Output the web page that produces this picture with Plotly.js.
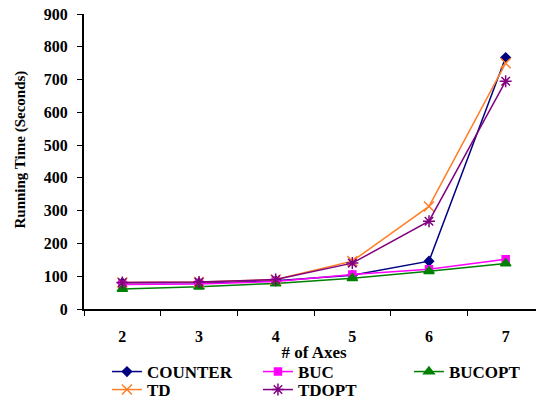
<!DOCTYPE html>
<html>
<head>
<meta charset="utf-8">
<script src="https://cdn.plot.ly/plotly-3.0.1.min.js"></script>
<style>
html,body{margin:0;padding:0;overflow:hidden;background:#fff;}
#chart{width:600px;height:400px;}
</style>
</head>
<body>
<div id="chart"></div>
<script>
const axes = ['2', '3', '4', '5', '6', '7'];
const counter = [80, 80, 86, 103, 146, 767];
const buc = [75, 76, 84, 105, 121, 152];
const bucopt = [61, 68, 78, 94, 115, 139];
const td = [81, 82, 90, 146, 313, 750];
const tdopt = [81, 82, 90, 140, 268, 695];
const yTicks = [0, 100, 200, 300, 400, 500, 600, 700, 800, 900];

const FONT = 'Liberation Serif, Times New Roman, serif';

function tr(name, y, color, symbol, size, legend) {
  return {
    type: 'scatter', mode: 'lines+markers', name: name,
    x: axes, y: y, legend: legend,
    line: {color: color, width: 1.5},
    marker: {symbol: symbol, size: size, color: color, line: {color: color, width: 1.5}}
  };
}

const data = [
  tr('COUNTER', counter, '#000080', 'diamond', 7, 'legend'),
  tr('BUC', buc, '#FF00FF', 'square', 7, 'legend'),
  tr('BUCOPT', bucopt, '#008000', 'triangle-up', 9, 'legend'),
  tr('TD', td, '#FF7F27', 'x-thin', 10, 'legend2'),
  tr('TDOPT', tdopt, '#800080', 'asterisk', 10, 'legend2')
];

const legendBase = {
  orientation: 'h', x: -0.0001, xanchor: 'left', yanchor: 'top',
  entrywidth: 83, entrywidthmode: 'pixels', itemwidth: 30, indentation: 23,
  tracegroupgap: 0, bgcolor: 'rgba(0,0,0,0)',
  font: {family: FONT, size: 17, weight: 'bold'}
};

const layout = {
  width: 600, height: 400,
  margin: {l: 84, r: 56, t: 14, b: 91, pad: 0, autoexpand: false},
  paper_bgcolor: '#fff', plot_bgcolor: '#fff',
  font: {family: FONT, size: 16, color: '#000', weight: 'bold'},
  showlegend: true,
  xaxis: {
    type: 'category', range: [-0.5, 5.5],
    showline: true, linecolor: '#000', linewidth: 2,
    showgrid: false, zeroline: false,
    ticks: 'outside', tickson: 'boundaries', ticklen: 5, tickwidth: 1, tickcolor: '#000',
    ticklabelstandoff: 12,
    tickfont: {family: FONT, size: 16, weight: 'bold'},
    title: {text: '# of Axes', font: {family: FONT, size: 17, weight: 'bold'}, standoff: 2}
  },
  yaxis: {
    range: [0, 900], tickvals: yTicks, ticktext: yTicks.map(String),
    showline: true, linecolor: '#000', linewidth: 2,
    showgrid: false, zeroline: false,
    ticks: 'outside', ticklen: 5, tickwidth: 1, tickcolor: '#000',
    ticklabelstandoff: 6,
    tickfont: {family: FONT, size: 16, weight: 'bold'}
  },
  annotations: [{
    text: 'Running Time (Seconds)', textangle: -90,
    xref: 'paper', yref: 'paper', x: -64/460, y: (309 - 149.5) / 295,
    xanchor: 'center', yanchor: 'middle', showarrow: false,
    font: {family: FONT, size: 15, weight: 'bold'}
  }],
  legend: Object.assign({}, legendBase, {y: (309 - 354) / 295}),
  legend2: Object.assign({}, legendBase, {y: (309 - 372) / 295})
};

Plotly.newPlot('chart', data, layout, {staticPlot: true, displayModeBar: false});
</script>
</body>
</html>
